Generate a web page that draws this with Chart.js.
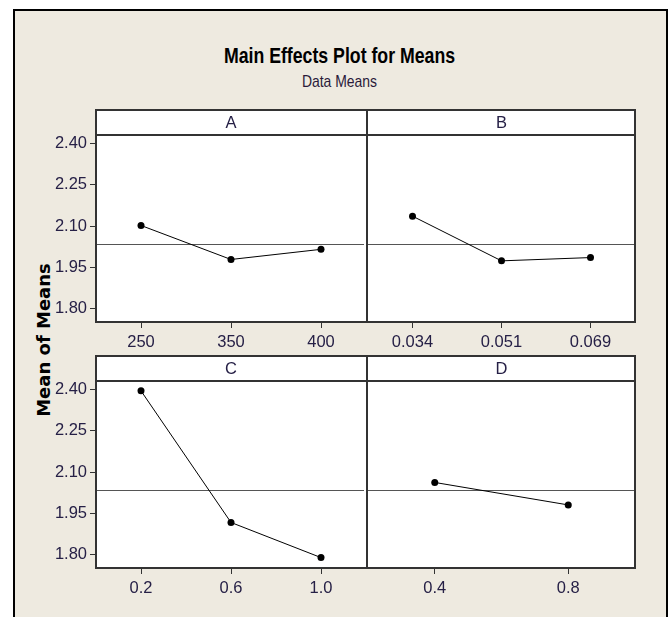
<!DOCTYPE html>
<html>
<head>
<meta charset="utf-8">
<script src="https://cdn.jsdelivr.net/npm/chart.js@4.4.0/dist/chart.umd.min.js"></script>
<style>
  body { margin: 0; background: #fff; width: 671px; height: 617px; overflow: hidden; position: relative;
         font-family: 'Liberation Sans', Arial, sans-serif; }
  #frame { position: absolute; left: 13px; top: 9px; width: 651px; height: 620px; background: #eeeae0;
           border: 2px solid #000; border-bottom: none; }
  .title { position: absolute; left: 0; width: 679px; text-align: center; color: #000; transform-origin: 339.5px 50%; }
  #mainTitle { top: 45px; font-size: 21.6px; line-height: 22px; font-weight: bold; transform: scaleX(0.82); }
  #subTitle { top: 73px; font-size: 17px; line-height: 17px; color: #2a1a3a; transform: scaleX(0.82); }
  #yLabel { position: absolute; left: -56px; top: 330px; width: 200px; height: 20px; line-height: 20px;
            text-align: center; transform: rotate(-90deg); font-family: 'DejaVu Sans', sans-serif;
            font-weight: bold; font-size: 18px; color: #000; }
  canvas { position: absolute; }
  .divider { position: absolute; left: 366px; width: 2px; height: 214px; background: #333; z-index: 3; }
</style>
</head>
<body>
<div id="frame"></div>
<div class="title" id="mainTitle">Main Effects Plot for Means</div>
<div class="title" id="subTitle">Data Means</div>
<div id="yLabel">Mean of Means</div>
<canvas id="chartA" width="340" height="257" style="left:30px; top:100px;"></canvas>
<canvas id="chartB" width="275" height="257" style="left:364px; top:100px;"></canvas>
<canvas id="chartC" width="340" height="257" style="left:30px; top:346px;"></canvas>
<canvas id="chartD" width="275" height="257" style="left:364px; top:346px;"></canvas>
<div class="divider" style="top:109px;"></div>
<div class="divider" style="top:355px;"></div>
<script>
// factor levels
const levelsA = ['250', '350', '400'];
const levelsB = ['0.034', '0.051', '0.069'];
const levelsC = ['0.2', '0.6', '1.0'];
const levelsD = ['0.4', '0.8'];

// means at each level
const meansA = [2.102, 1.978, 2.015];
const meansB = [2.136, 1.973, 1.985];
const meansC = [2.396, 1.916, 1.788];
const meansD = [2.062, 1.980];

const grandMean = 2.033;
const yTicks = [1.80, 1.95, 2.10, 2.25, 2.40];
const yMin = 1.75, yMax = 2.432;

const tickFont = { family: "'Liberation Sans', Arial, sans-serif", size: 16.5 };
const tickColor = '#262046';

// strip, reference line and panel frame
// the shared middle edge is left to the divider div, so the two canvases never double it
const panelPlugin = {
    id: 'panelFrame',
    beforeDraw(chart, args, opts) {
        const { ctx, chartArea: a } = chart;
        const l = opts.outerLeft ? a.left : a.left - 4;
        const r = opts.outerLeft ? a.right + 4 : a.right;
        ctx.save();
        ctx.fillStyle = '#fff';
        ctx.fillRect(l, a.top - 25, r - l, a.bottom - a.top + 25);
        ctx.restore();
    },
    beforeDatasetsDraw(chart) {
        const { ctx, chartArea: a, scales } = chart;
        const y = Math.round(scales.y.getPixelForValue(grandMean)) + 0.5;
        ctx.save();
        ctx.strokeStyle = '#555';
        ctx.lineWidth = 1;
        ctx.beginPath();
        ctx.moveTo(a.left, y);
        ctx.lineTo(a.right, y);
        ctx.stroke();
        ctx.restore();
    },
    afterDraw(chart, args, opts) {
        const { ctx, chartArea: a } = chart;
        const l = Math.round(a.left), r = Math.round(a.right);
        const t = Math.round(a.top), b = Math.round(a.bottom);
        const hl = opts.outerLeft ? l - 1 : l - 4;
        const hr = opts.outerLeft ? r + 4 : r + 1;
        const edgeX = opts.outerLeft ? l : r;
        ctx.save();
        ctx.strokeStyle = '#333';
        ctx.lineWidth = 2;
        ctx.beginPath();
        [t - 25, t, b].forEach(y => { ctx.moveTo(hl, y); ctx.lineTo(hr, y); });
        ctx.moveTo(edgeX, t - 25);
        ctx.lineTo(edgeX, b);
        ctx.stroke();
        ctx.fillStyle = tickColor;
        ctx.font = '16.5px ' + tickFont.family;
        ctx.textAlign = 'center';
        ctx.textBaseline = 'middle';
        ctx.fillText(opts.letter, (l + r) / 2, t - 12);
        ctx.restore();
    }
};

// plot area targets in canvas pixels: [left, right, top]
function makePanel(id, letter, labels, values, showY, area) {
    const axisWidth = showY ? 66 : 0;
    const chart = new Chart(document.getElementById(id), {
        type: 'line',
        data: {
            labels: labels,
            datasets: [{
                data: values,
                borderColor: '#000',
                borderWidth: 1,
                backgroundColor: '#000',
                pointRadius: 3.5,
                pointBackgroundColor: '#000',
                pointBorderWidth: 0,
                tension: 0
            }]
        },
        options: {
            responsive: false,
            animation: false,
            devicePixelRatio: 1,
            layout: { padding: { top: 35, right: 3, left: 0, bottom: 0 } },
            plugins: {
                legend: { display: false },
                tooltip: { enabled: false },
                panelFrame: { letter: letter, outerLeft: showY }
            },
            scales: {
                x: {
                    type: 'category',
                    offset: true,
                    border: { display: false },
                    grid: { display: true, drawOnChartArea: false, drawTicks: true, tickLength: 6, color: '#333' },
                    ticks: { font: tickFont, color: tickColor, padding: 5, maxRotation: 0 },
                    afterFit(scale) { scale.height = 35; }
                },
                y: {
                    display: showY,
                    min: yMin,
                    max: yMax,
                    border: { display: false },
                    grid: { display: true, drawOnChartArea: false, drawTicks: true, tickLength: 6, color: '#333' },
                    ticks: {
                        font: tickFont,
                        color: tickColor,
                        padding: 3,
                        callback: v => Number(v).toFixed(2)
                    },
                    afterBuildTicks(scale) { scale.ticks = yTicks.map(v => ({ value: v })); },
                    afterFit(scale) { scale.width = axisWidth; }
                }
            }
        },
        plugins: [panelPlugin]
    });
    // nudge padding so the plot area lands where the panels sit
    const a = chart.chartArea;
    const p = chart.options.layout.padding;
    p.left = Math.max(0, p.left + area[0] - a.left);
    p.right = Math.max(0, p.right + a.right - area[1]);
    p.top = Math.max(0, p.top + area[2] - a.top);
    chart.update();
    return chart;
}

makePanel('chartA', 'A', levelsA, meansA, true, [66, 337, 35]);
makePanel('chartB', 'B', levelsB, meansB, false, [3, 272, 35]);
makePanel('chartC', 'C', levelsC, meansC, true, [66, 337, 35]);
makePanel('chartD', 'D', levelsD, meansD, false, [3, 272, 35]);
</script>
</body>
</html>
